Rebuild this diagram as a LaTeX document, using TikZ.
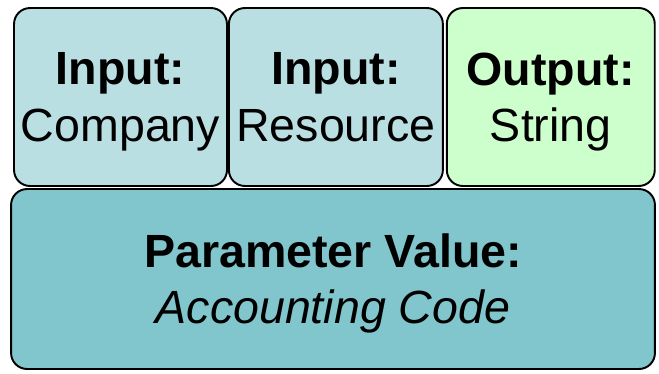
\documentclass[tikz,border=0pt]{standalone}
\usepackage{fontspec}
\setmainfont{Liberation Sans}
\usetikzlibrary{positioning}
\definecolor{inblue}{HTML}{B9DFE3}
\definecolor{outgreen}{HTML}{CCFFCC}
\definecolor{parblue}{HTML}{80C6CC}
\tikzset{
  box/.style={draw=black,line width=1.1pt,rounded corners=0.32cm,align=center,
    inner sep=0pt,text depth=-0.12cm,font=\fontsize{26.5}{32}\selectfont},
  topbox/.style={box,minimum height=3.56cm}
}

\begin{document}
\begin{tikzpicture}[x=0.02cm,y=-0.02cm]
\useasboundingbox (0,0) rectangle (659,373);
% the two inputs and the output
\node[topbox,fill=inblue,minimum width=4.26cm] (company) at (120.5,97) {\textbf{Input:}\\Company};
\node[topbox,fill=inblue,minimum width=4.28cm,right=0cm of company] (resource) {\textbf{Input:}\\Resource};
\node[topbox,fill=outgreen,minimum width=4.16cm,right=0.04cm of resource] (output) {\textbf{Output:}\\String};
% the parameter value underneath
\node[box,fill=parblue,minimum width=12.88cm,minimum height=3.6cm] (param) at (333,279) {\textbf{Parameter Value:}\\\textit{Accounting Code}};
\end{tikzpicture}
\end{document}
